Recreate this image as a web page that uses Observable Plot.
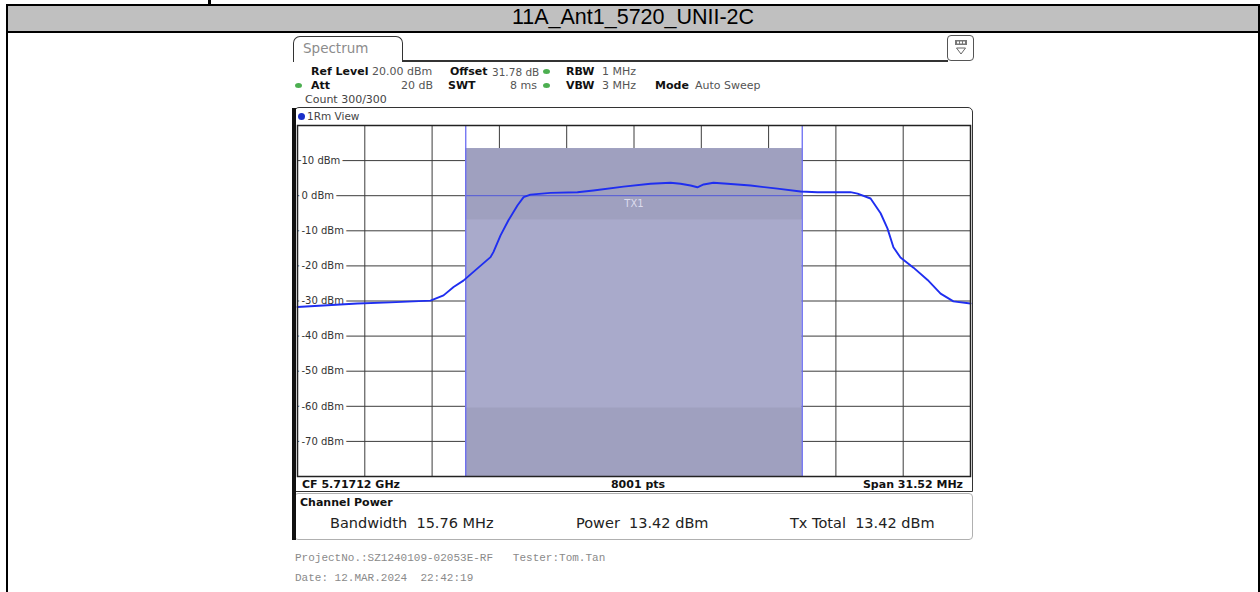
<!DOCTYPE html>
<html><head><meta charset="utf-8">
<script src="https://cdn.jsdelivr.net/npm/d3@7"></script>
<script src="https://cdn.jsdelivr.net/npm/@observablehq/plot@0.6"></script>
<style>
html,body{margin:0;padding:0;background:#fff;}
body{width:1260px;height:592px;position:relative;overflow:hidden;font-family:"DejaVu Sans",sans-serif;}
.a{position:absolute;white-space:pre;line-height:1;}
.b{font-weight:bold;color:#111;font-size:11px;}
.v{color:#555;font-size:11px;}
.dot{position:absolute;width:7px;height:5px;border-radius:50%;background:#4caf50;}
.cp{font-size:14.5px;color:#222;}
.ft{font-family:"Liberation Mono",monospace;font-size:11px;color:#8a8a8a;}
</style></head><body>
<script>
// ---- data ----
const chartTitle = "11A_Ant1_5720_UNII-2C";
const freqOffsetMHz = [-15.76,-12.95,-11.41,-9.53,-8.92,-8.45,-7.99,-7.33,-6.72,-6.58,-6.25,-5.88,-5.46,-5.17,-4.85,-3.91,-2.65,-1.90,-0.49,0.77,1.71,2.18,2.65,2.97,3.26,3.72,4.38,5.46,6.72,7.80,8.59,10.14,10.47,11.08,11.55,11.87,12.15,12.48,13.09,13.75,14.36,14.96,15.76];
const traceDbm =      [-31.7,-30.7,-30.4,-29.9,-28.4,-26.0,-24.2,-20.7,-17.5,-16.0,-11.3,-7.0,-2.8,-0.4,0.3,0.8,1.0,1.5,2.6,3.4,3.7,3.4,2.9,2.4,3.2,3.7,3.4,2.9,2.0,1.2,1.0,1.0,0.6,-0.8,-5.0,-9.3,-14.7,-17.6,-20.5,-24.0,-27.9,-30.1,-30.7];
const levelTicks = [10,0,-10,-20,-30,-40,-50,-60,-70];
const levelTickLabels = ["10 dBm","0 dBm","-10 dBm","-20 dBm","-30 dBm","-40 dBm","-50 dBm","-60 dBm","-70 dBm"];
const gridFreqMHz = [-15.76,-12.608,-9.456,-6.304,-3.152,0,3.152,6.304,9.456,12.608,15.76];
const gridLevels = [20,10,0,-10,-20,-30,-40,-50,-60,-70,-80];
const spanMHz = 31.52;
const channelBandwidthMHz = 15.76;
const channelPowerDbm = 13.42;
const refLevelDbm = 20;
const bottomLevelDbm = -80;
const shadeLowDbm = [-6.9, -80];
const shadeHighDbm = [13.42, -60.5];
const channelLabel = "TX1";
</script>

<!-- table header -->
<div class="a" style="left:208px;top:0;width:3px;height:4px;background:#000"></div>
<div class="a" style="left:6px;top:4px;width:1254px;height:29px;background:#c0c0c0;border:2px solid #000;box-sizing:border-box"></div>
<div class="a" id="title" style="left:6px;top:7px;width:1254px;text-align:center;font-family:'Liberation Sans',Arial,sans-serif;font-size:21.5px;color:#000"></div>
<div class="a" style="left:6px;top:31px;width:2px;height:561px;background:#000"></div>
<div class="a" style="left:1258px;top:31px;width:2px;height:561px;background:#000"></div>

<!-- spectrum tab -->
<div class="a" style="left:293px;top:36px;width:110px;height:26px;border:1.5px solid #333;border-bottom:none;border-radius:7px 7px 0 0;box-sizing:border-box"></div>
<div class="a" style="left:303px;top:42px;font-size:13.5px;color:#8c8c8c">Spectrum</div>
<div class="a" style="left:403px;top:60px;width:545px;height:1.5px;background:#333"></div>
<div class="a" style="left:947px;top:35px;width:27px;height:26px;border:1.2px solid #555;border-radius:4px;box-sizing:border-box;background:#fff">
<svg width="25" height="24" style="position:absolute;left:0;top:0"><rect x="7" y="4" width="12" height="5" fill="#777"/><rect x="9" y="5.5" width="2" height="2" fill="#fff"/><rect x="12" y="5.5" width="2" height="2" fill="#fff"/><rect x="15" y="5.5" width="2" height="2" fill="#fff"/><path d="M8.5 12 L17.5 12 L13 18 Z" fill="none" stroke="#666" stroke-width="1"/></svg></div>

<!-- info rows -->
<div class="a b" style="left:311px;top:66px">Ref Level</div>
<div class="a v" style="left:372px;top:66px">20.00 dBm</div>
<div class="a b" style="left:450px;top:66px">Offset</div>
<div class="a v" style="left:492px;top:66.5px;font-size:10.5px">31.78 dB</div>
<div class="dot" style="left:543px;top:69px"></div>
<div class="a b" style="left:566px;top:66px">RBW</div>
<div class="a v" style="left:602px;top:66px">1 MHz</div>

<div class="dot" style="left:295px;top:83px"></div>
<div class="a b" style="left:311px;top:80px">Att</div>
<div class="a v" style="left:383px;top:80px;width:50px;text-align:right">20 dB</div>
<div class="a b" style="left:448px;top:80px">SWT</div>
<div class="a v" style="left:487px;top:80px;width:50px;text-align:right">8 ms</div>
<div class="dot" style="left:543px;top:83px"></div>
<div class="a b" style="left:566px;top:80px">VBW</div>
<div class="a v" style="left:602px;top:80px">3 MHz</div>
<div class="a b" style="left:655px;top:80px">Mode</div>
<div class="a v" style="left:695px;top:80px">Auto Sweep</div>
<div class="a v" style="left:305px;top:94px;color:#444">Count 300/300</div>

<!-- plot frame -->
<div class="a" style="left:294px;top:107px;width:679px;height:385px;border:1.5px solid #333;border-radius:5px 5px 0 0;box-sizing:border-box"></div>
<div class="a" style="left:298px;top:113px;width:7px;height:7px;border-radius:50%;background:#1b2fc9"></div>
<div class="a" style="left:307px;top:111px;font-size:10.5px;color:#444">1Rm View</div>
<div id="chart" style="position:absolute;left:296px;top:124px;z-index:1"></div>
<div class="a b" style="left:302px;top:479px">CF 5.71712 GHz</div>
<div class="a b" style="left:588px;top:479px;width:100px;text-align:center">8001 pts</div>
<div class="a b" style="left:803px;top:479px;width:160px;text-align:right">Span 31.52 MHz</div>
<div class="a" style="left:292px;top:108px;width:4px;height:432px;background:#111;z-index:2"></div>

<!-- channel power panel -->
<div class="a" style="left:294px;top:493px;width:679px;height:47px;border:1px solid #b0b0b0;border-radius:4px;box-sizing:border-box"></div>
<div class="a b" style="left:300px;top:497px">Channel Power</div>
<div class="a cp" style="left:330px;top:516px">Bandwidth  15.76 MHz</div>
<div class="a cp" style="left:576px;top:516px">Power  13.42 dBm</div>
<div class="a cp" style="left:790px;top:516px">Tx Total  13.42 dBm</div>

<!-- footer -->
<div class="a ft" style="left:295px;top:553px">ProjectNo.:SZ1240109-02053E-RF   Tester:Tom.Tan</div>
<div class="a ft" style="left:295px;top:573px">Date: 12.MAR.2024  22:42:19</div>

<script>
document.getElementById("title").textContent = chartTitle;
const traceRows = freqOffsetMHz.map((f, i) => ({f, v: traceDbm[i]}));
const shadeRows = shadeLowDbm.map((lo, i) => ({lo, hi: shadeHighDbm[i]}));
const half = channelBandwidthMHz / 2;
const labelStyle = {y: d => d, text: (d, i) => levelTickLabels[i], frameAnchor: "left", dx: 4, textAnchor: "start", fontSize: 10, fontFamily: "DejaVu Sans"};
const chart = Plot.plot({
  width: 675, height: 353,
  marginLeft: 1, marginRight: 1, marginTop: 1, marginBottom: 1,
  x: {domain: [-spanMHz / 2, spanMHz / 2], axis: null},
  y: {domain: [bottomLevelDbm, refLevelDbm], axis: null},
  style: {background: "white", overflow: "visible"},
  marks: [
    Plot.ruleX(gridFreqMHz, {stroke: "#3c3c3c", strokeWidth: 1}),
    Plot.ruleY(gridLevels, {stroke: "#3c3c3c", strokeWidth: 1}),
    Plot.rect([channelPowerDbm], {x1: -half, x2: half, y1: bottomLevelDbm, y2: d => d, fill: "#a9aacb"}),
    Plot.rect(shadeRows, {x1: -half, x2: half, y1: "lo", y2: "hi", fill: "#9fa0bf"}),
    Plot.ruleY([0], {x1: -half, x2: half, stroke: "#5058d8", strokeWidth: 1}),
    Plot.ruleX([-half, half], {y1: bottomLevelDbm, y2: refLevelDbm, stroke: "#6a6cf2", strokeWidth: 1.3}),
    Plot.text([channelLabel], {x: 0, y: -2.2, text: d => d, fill: "#dcdcee", fontSize: 10, fontFamily: "DejaVu Sans"}),
    Plot.text(levelTicks, {...labelStyle, fill: "white", stroke: "white", strokeWidth: 6}),
    Plot.text(levelTicks, {...labelStyle, fill: "#333"}),
    Plot.line(traceRows, {x: "f", y: "v", stroke: "#1f2ef0", strokeWidth: 1.9}),
    Plot.frame({stroke: "#222", strokeWidth: 1.5})
  ]
});
document.getElementById("chart").appendChild(chart);
</script>
</body></html>
